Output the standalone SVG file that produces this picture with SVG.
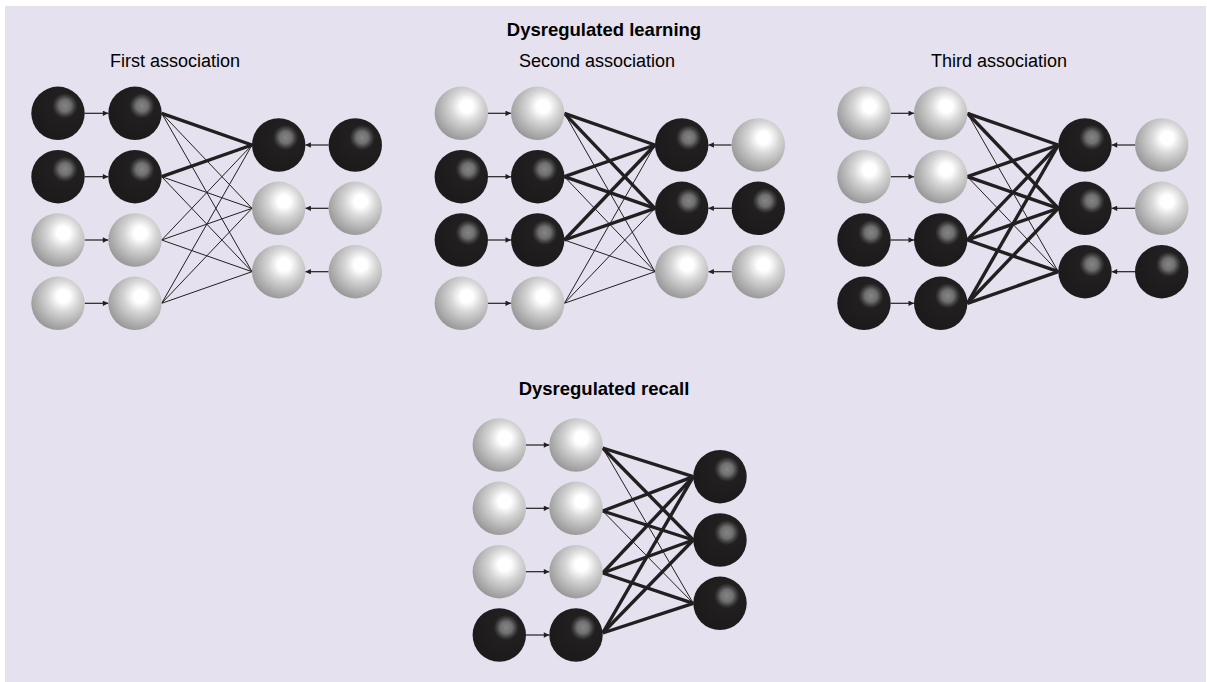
<svg xmlns="http://www.w3.org/2000/svg" width="1207" height="682" viewBox="0 0 1207 682">
<style>
.bg{fill:#e5e1ee}
.dk{fill:url(#gDark)}
.lt{fill:url(#gLight)}
.n{stroke:#231f20;stroke-width:1;fill:none}
.k{stroke:#231f20;stroke-width:3.4;fill:none}
.a{stroke:#231f20;stroke-width:1.2;fill:none;marker-end:url(#ah)}
.h{font-family:"Liberation Sans",Arial,sans-serif;font-weight:bold;font-size:18.5px;fill:#000;text-anchor:middle}
.t{font-family:"Liberation Sans",Arial,sans-serif;font-size:18px;fill:#000;text-anchor:middle}
</style>
<defs>
<radialGradient id="gDark" cx="0.63" cy="0.36" r="0.62" fx="0.63" fy="0.36">
<stop offset="0" stop-color="#858585"/>
<stop offset="0.18" stop-color="#707070"/>
<stop offset="0.3" stop-color="#3c3a3b"/>
<stop offset="0.38" stop-color="#211f20"/>
<stop offset="1" stop-color="#1c1a1b"/>
</radialGradient>
<radialGradient id="gLight" cx="0.6" cy="0.37" r="0.66" fx="0.6" fy="0.37">
<stop offset="0" stop-color="#ffffff"/>
<stop offset="0.18" stop-color="#ffffff"/>
<stop offset="0.45" stop-color="#d6d6d6"/>
<stop offset="0.75" stop-color="#b3b3b3"/>
<stop offset="1" stop-color="#979797"/>
</radialGradient>
<marker id="ah" viewBox="0 0 10 10" refX="10" refY="5" markerWidth="9" markerHeight="5.5" orient="auto" markerUnits="userSpaceOnUse">
<path d="M0,0 L10,5 L0,10 Z" fill="#231f20"/>
</marker>
</defs>
<rect x="0" y="0" width="1207" height="682" fill="#ffffff"/>
<rect class="bg" x="5" y="6" width="1201" height="676"/>

<g id="titles">
<text class="h" x="604" y="36">Dysregulated learning</text>
<text class="t" x="175" y="67">First association</text>
<text class="t" x="597" y="67">Second association</text>
<text class="t" x="999" y="67">Third association</text>
<text class="h" x="604" y="395">Dysregulated recall</text>
</g>

<g id="connectors">
<!-- Panel 1 -->
<line class="a" x1="84.7" y1="113.3" x2="108.3" y2="113.3"/>
<line class="a" x1="84.7" y1="176.7" x2="108.3" y2="176.7"/>
<line class="a" x1="84.7" y1="240" x2="108.3" y2="240"/>
<line class="a" x1="84.7" y1="303.3" x2="108.3" y2="303.3"/>
<line class="a" x1="328.6" y1="145" x2="305.4" y2="145"/>
<line class="a" x1="328.6" y1="208.3" x2="305.4" y2="208.3"/>
<line class="a" x1="328.6" y1="271.7" x2="305.4" y2="271.7"/>
<line class="k" x1="161.7" y1="113.3" x2="252" y2="145"/>
<line class="n" x1="161.7" y1="113.3" x2="252" y2="208.3"/>
<line class="n" x1="161.7" y1="113.3" x2="252" y2="271.7"/>
<line class="k" x1="161.7" y1="176.7" x2="252" y2="145"/>
<line class="n" x1="161.7" y1="176.7" x2="252" y2="208.3"/>
<line class="n" x1="161.7" y1="176.7" x2="252" y2="271.7"/>
<line class="n" x1="161.7" y1="240" x2="252" y2="145"/>
<line class="n" x1="161.7" y1="240" x2="252" y2="208.3"/>
<line class="n" x1="161.7" y1="240" x2="252" y2="271.7"/>
<line class="n" x1="161.7" y1="303.3" x2="252" y2="145"/>
<line class="n" x1="161.7" y1="303.3" x2="252" y2="208.3"/>
<line class="n" x1="161.7" y1="303.3" x2="252" y2="271.7"/>
<!-- Panel 2 -->
<line class="a" x1="488" y1="113.3" x2="511" y2="113.3"/>
<line class="a" x1="488" y1="176.7" x2="511" y2="176.7"/>
<line class="a" x1="488" y1="240" x2="511" y2="240"/>
<line class="a" x1="488" y1="303.3" x2="511" y2="303.3"/>
<line class="a" x1="731.6" y1="145" x2="708.4" y2="145"/>
<line class="a" x1="731.6" y1="208.3" x2="708.4" y2="208.3"/>
<line class="a" x1="731.6" y1="271.7" x2="708.4" y2="271.7"/>
<line class="k" x1="564.4" y1="113.3" x2="655" y2="145"/>
<line class="k" x1="564.4" y1="113.3" x2="655" y2="208.3"/>
<line class="n" x1="564.4" y1="113.3" x2="655" y2="271.7"/>
<line class="k" x1="564.4" y1="176.7" x2="655" y2="145"/>
<line class="k" x1="564.4" y1="176.7" x2="655" y2="208.3"/>
<line class="n" x1="564.4" y1="176.7" x2="655" y2="271.7"/>
<line class="k" x1="564.4" y1="240" x2="655" y2="145"/>
<line class="k" x1="564.4" y1="240" x2="655" y2="208.3"/>
<line class="n" x1="564.4" y1="240" x2="655" y2="271.7"/>
<line class="n" x1="564.4" y1="303.3" x2="655" y2="145"/>
<line class="n" x1="564.4" y1="303.3" x2="655" y2="208.3"/>
<line class="n" x1="564.4" y1="303.3" x2="655" y2="271.7"/>
<!-- Panel 3 -->
<line class="a" x1="890.7" y1="113.3" x2="914" y2="113.3"/>
<line class="a" x1="890.7" y1="176.7" x2="914" y2="176.7"/>
<line class="a" x1="890.7" y1="240" x2="914" y2="240"/>
<line class="a" x1="890.7" y1="303.3" x2="914" y2="303.3"/>
<line class="a" x1="1135" y1="145" x2="1111.7" y2="145"/>
<line class="a" x1="1135" y1="208.3" x2="1111.7" y2="208.3"/>
<line class="a" x1="1135" y1="271.7" x2="1111.7" y2="271.7"/>
<line class="k" x1="967.4" y1="113.3" x2="1058.3" y2="145"/>
<line class="k" x1="967.4" y1="113.3" x2="1058.3" y2="208.3"/>
<line class="n" x1="967.4" y1="113.3" x2="1058.3" y2="271.7"/>
<line class="k" x1="967.4" y1="176.7" x2="1058.3" y2="145"/>
<line class="k" x1="967.4" y1="176.7" x2="1058.3" y2="208.3"/>
<line class="n" x1="967.4" y1="176.7" x2="1058.3" y2="271.7"/>
<line class="k" x1="967.4" y1="240" x2="1058.3" y2="145"/>
<line class="k" x1="967.4" y1="240" x2="1058.3" y2="208.3"/>
<line class="k" x1="967.4" y1="240" x2="1058.3" y2="271.7"/>
<line class="k" x1="967.4" y1="303.3" x2="1058.3" y2="145"/>
<line class="k" x1="967.4" y1="303.3" x2="1058.3" y2="208.3"/>
<line class="k" x1="967.4" y1="303.3" x2="1058.3" y2="271.7"/>
<!-- Recall -->
<line class="a" x1="526" y1="445" x2="549.3" y2="445"/>
<line class="a" x1="526" y1="508.3" x2="549.3" y2="508.3"/>
<line class="a" x1="526" y1="571.7" x2="549.3" y2="571.7"/>
<line class="a" x1="526" y1="635" x2="549.3" y2="635"/>
<line class="k" x1="602.7" y1="448" x2="693.3" y2="476.7"/>
<line class="k" x1="602.7" y1="448" x2="693.3" y2="540"/>
<line class="n" x1="602.7" y1="448" x2="693.3" y2="603.3"/>
<line class="k" x1="602.7" y1="511" x2="693.3" y2="476.7"/>
<line class="k" x1="602.7" y1="511" x2="693.3" y2="540"/>
<line class="n" x1="602.7" y1="511" x2="693.3" y2="603.3"/>
<line class="k" x1="602.7" y1="573" x2="693.3" y2="476.7"/>
<line class="k" x1="602.7" y1="573" x2="693.3" y2="540"/>
<line class="k" x1="602.7" y1="573" x2="693.3" y2="603.3"/>
<line class="k" x1="602.7" y1="633" x2="693.3" y2="476.7"/>
<line class="k" x1="602.7" y1="633" x2="693.3" y2="540"/>
<line class="k" x1="602.7" y1="633" x2="693.3" y2="603.3"/>
</g>

<g id="p1-nodes">
<g id="p1-a1"><circle class="dk" cx="58" cy="113.3" r="26.7"/></g>
<g id="p1-a2"><circle class="dk" cx="58" cy="176.7" r="26.7"/></g>
<g id="p1-a3"><circle class="lt" cx="58" cy="240" r="26.7"/></g>
<g id="p1-a4"><circle class="lt" cx="58" cy="303.3" r="26.7"/></g>
<g id="p1-b1"><circle class="dk" cx="135" cy="113.3" r="26.7"/></g>
<g id="p1-b2"><circle class="dk" cx="135" cy="176.7" r="26.7"/></g>
<g id="p1-b3"><circle class="lt" cx="135" cy="240" r="26.7"/></g>
<g id="p1-b4"><circle class="lt" cx="135" cy="303.3" r="26.7"/></g>
<g id="p1-c1"><circle class="dk" cx="278.7" cy="145" r="26.7"/></g>
<g id="p1-c2"><circle class="lt" cx="278.7" cy="208.3" r="26.7"/></g>
<g id="p1-c3"><circle class="lt" cx="278.7" cy="271.7" r="26.7"/></g>
<g id="p1-d1"><circle class="dk" cx="355.3" cy="145" r="26.7"/></g>
<g id="p1-d2"><circle class="lt" cx="355.3" cy="208.3" r="26.7"/></g>
<g id="p1-d3"><circle class="lt" cx="355.3" cy="271.7" r="26.7"/></g>
</g>

<g id="p2-nodes">
<g id="p2-a1"><circle class="lt" cx="461.3" cy="113.3" r="26.7"/></g>
<g id="p2-a2"><circle class="dk" cx="461.3" cy="176.7" r="26.7"/></g>
<g id="p2-a3"><circle class="dk" cx="461.3" cy="240" r="26.7"/></g>
<g id="p2-a4"><circle class="lt" cx="461.3" cy="303.3" r="26.7"/></g>
<g id="p2-b1"><circle class="lt" cx="537.7" cy="113.3" r="26.7"/></g>
<g id="p2-b2"><circle class="dk" cx="537.7" cy="176.7" r="26.7"/></g>
<g id="p2-b3"><circle class="dk" cx="537.7" cy="240" r="26.7"/></g>
<g id="p2-b4"><circle class="lt" cx="537.7" cy="303.3" r="26.7"/></g>
<g id="p2-c1"><circle class="dk" cx="681.7" cy="145" r="26.7"/></g>
<g id="p2-c2"><circle class="dk" cx="681.7" cy="208.3" r="26.7"/></g>
<g id="p2-c3"><circle class="lt" cx="681.7" cy="271.7" r="26.7"/></g>
<g id="p2-d1"><circle class="lt" cx="758.3" cy="145" r="26.7"/></g>
<g id="p2-d2"><circle class="dk" cx="758.3" cy="208.3" r="26.7"/></g>
<g id="p2-d3"><circle class="lt" cx="758.3" cy="271.7" r="26.7"/></g>
</g>

<g id="p3-nodes">
<g id="p3-a1"><circle class="lt" cx="864" cy="113.3" r="26.7"/></g>
<g id="p3-a2"><circle class="lt" cx="864" cy="176.7" r="26.7"/></g>
<g id="p3-a3"><circle class="dk" cx="864" cy="240" r="26.7"/></g>
<g id="p3-a4"><circle class="dk" cx="864" cy="303.3" r="26.7"/></g>
<g id="p3-b1"><circle class="lt" cx="940.7" cy="113.3" r="26.7"/></g>
<g id="p3-b2"><circle class="lt" cx="940.7" cy="176.7" r="26.7"/></g>
<g id="p3-b3"><circle class="dk" cx="940.7" cy="240" r="26.7"/></g>
<g id="p3-b4"><circle class="dk" cx="940.7" cy="303.3" r="26.7"/></g>
<g id="p3-c1"><circle class="dk" cx="1085" cy="145" r="26.7"/></g>
<g id="p3-c2"><circle class="dk" cx="1085" cy="208.3" r="26.7"/></g>
<g id="p3-c3"><circle class="dk" cx="1085" cy="271.7" r="26.7"/></g>
<g id="p3-d1"><circle class="lt" cx="1161.7" cy="145" r="26.7"/></g>
<g id="p3-d2"><circle class="lt" cx="1161.7" cy="208.3" r="26.7"/></g>
<g id="p3-d3"><circle class="dk" cx="1161.7" cy="271.7" r="26.7"/></g>
</g>

<g id="r-nodes">
<g id="r-a1"><circle class="lt" cx="499.3" cy="445" r="26.7"/></g>
<g id="r-a2"><circle class="lt" cx="499.3" cy="508.3" r="26.7"/></g>
<g id="r-a3"><circle class="lt" cx="499.3" cy="571.7" r="26.7"/></g>
<g id="r-a4"><circle class="dk" cx="499.3" cy="635" r="26.7"/></g>
<g id="r-b1"><circle class="lt" cx="576" cy="445" r="26.7"/></g>
<g id="r-b2"><circle class="lt" cx="576" cy="508.3" r="26.7"/></g>
<g id="r-b3"><circle class="lt" cx="576" cy="571.7" r="26.7"/></g>
<g id="r-b4"><circle class="dk" cx="576" cy="635" r="26.7"/></g>
<g id="r-c1"><circle class="dk" cx="720" cy="476.7" r="26.7"/></g>
<g id="r-c2"><circle class="dk" cx="720" cy="540" r="26.7"/></g>
<g id="r-c3"><circle class="dk" cx="720" cy="603.3" r="26.7"/></g>
</g>
</svg>
